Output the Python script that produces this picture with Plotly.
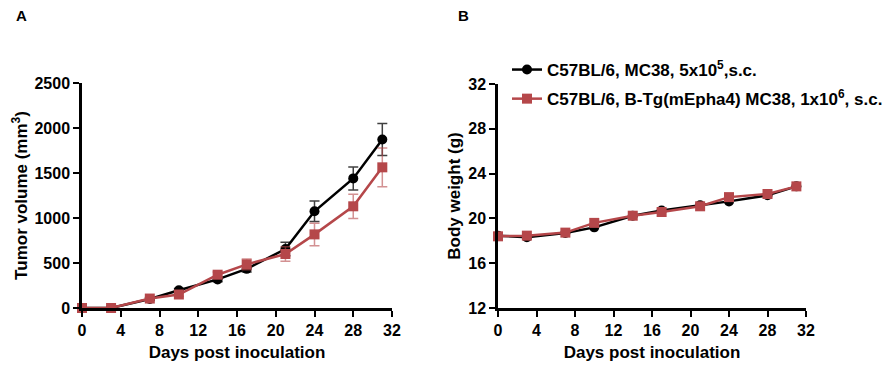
import plotly.graph_objects as go

days = [0, 3, 7, 10, 14, 17, 21, 24, 28, 31]

tumor_black = [0, 0, 100, 198, 318, 435, 655, 1075, 1440, 1872]
tumor_black_err = [0, 0, 15, 20, 25, 35, 75, 115, 128, 178]
tumor_red = [0, 0, 105, 150, 370, 485, 600, 818, 1130, 1563]
tumor_red_err = [0, 0, 15, 20, 30, 60, 80, 125, 135, 215]

bw_black = [18.46, 18.31, 18.70, 19.20, 20.24, 20.70, 21.17, 21.52, 22.06, 22.86]
bw_red = [18.40, 18.46, 18.73, 19.60, 20.24, 20.57, 21.08, 21.90, 22.18, 22.86]

name_black = "C57BL/6, MC38, 5x10<sup>5</sup>,s.c."
name_red = "C57BL/6, B-Tg(mEpha4) MC38, 1x10<sup>6</sup>, s.c."

BLACK = "#000000"
RED = "#B5474A"
FONT = "Arial, Liberation Sans, sans-serif"

W, H = 883, 358  # page body has an 8px margin in the 891x366 window

fig = go.Figure()

fig.add_trace(go.Scatter(
    x=days, y=tumor_black, mode="lines+markers", name=name_black, showlegend=False,
    line=dict(color=BLACK, width=2.5), marker=dict(symbol="circle", size=10, color=BLACK),
    error_y=dict(type="data", array=tumor_black_err, color="rgba(0,0,0,0.75)", thickness=1.5, width=5),
    cliponaxis=False, xaxis="x", yaxis="y"))
fig.add_trace(go.Scatter(
    x=days, y=tumor_red, mode="lines+markers", name=name_red, showlegend=False,
    line=dict(color=RED, width=2.5), marker=dict(symbol="square", size=10, color=RED),
    error_y=dict(type="data", array=tumor_red_err, color="rgba(181,71,74,0.6)", thickness=1.5, width=5),
    cliponaxis=False, xaxis="x", yaxis="y"))

fig.add_trace(go.Scatter(
    x=days, y=bw_black, mode="lines+markers", name=name_black, legendgroup="g1",
    line=dict(color=BLACK, width=2.5), marker=dict(symbol="circle", size=10, color=BLACK),
    cliponaxis=False, xaxis="x2", yaxis="y2"))
fig.add_trace(go.Scatter(
    x=days, y=bw_red, mode="lines+markers", name=name_red, legendgroup="g2",
    line=dict(color=RED, width=2.5), marker=dict(symbol="square", size=10, color=RED),
    cliponaxis=False, xaxis="x2", yaxis="y2"))

axis_common = dict(
    showline=True, linecolor="black", linewidth=2.5, mirror=False,
    ticks="outside", ticklen=6, tickwidth=2, tickcolor="black",
    showgrid=False, zeroline=False, automargin=False,
    tickfont=dict(family=FONT, size=16, color="black", weight="bold"),
)
title_font = dict(family=FONT, size=17, color="black", weight="bold")
xticks = [0, 4, 8, 12, 16, 20, 24, 28, 32]

fig.update_layout(
    width=W, height=H,
    margin=dict(l=0, r=0, t=0, b=0),
    paper_bgcolor="white", plot_bgcolor="white",
    xaxis=dict(domain=[74 / W, 384 / W], range=[0, 32], tickvals=xticks,
               anchor="y", title=dict(text="Days post inoculation", font=title_font, standoff=9), **axis_common),
    yaxis=dict(domain=[1 - 300 / H, 1 - 75 / H], range=[0, 2500], tickvals=[0, 500, 1000, 1500, 2000, 2500],
               anchor="x", title=dict(text="Tumor volume (mm<sup>3</sup>)", font=title_font, standoff=3), **axis_common),
    xaxis2=dict(domain=[490 / W, 798 / W], range=[0, 32], tickvals=xticks,
                anchor="y2", title=dict(text="Days post inoculation", font=title_font, standoff=9), **axis_common),
    yaxis2=dict(domain=[1 - 300 / H, 1 - 76 / H], range=[12, 32], tickvals=[12, 16, 20, 24, 28, 32],
                anchor="x2", title=dict(text="Body weight (g)", font=title_font, standoff=4), **axis_common),
    legend=dict(x=499 / W, y=1 - 44 / H, xanchor="left", yanchor="top",
                font=dict(family=FONT, size=17, color="black", weight="bold"),
                bgcolor="rgba(0,0,0,0)", tracegroupgap=4, itemwidth=30),
    annotations=[
        dict(text="A", x=6 / W, y=1 - 7.5 / H, xref="paper", yref="paper", xanchor="left", yanchor="middle",
             showarrow=False, font=dict(family=FONT, size=15, color="black", weight="bold")),
        dict(text="B", x=448 / W, y=1 - 7.5 / H, xref="paper", yref="paper", xanchor="left", yanchor="middle",
             showarrow=False, font=dict(family=FONT, size=15, color="black", weight="bold")),
    ],
)

fig.write_html("out.html")
